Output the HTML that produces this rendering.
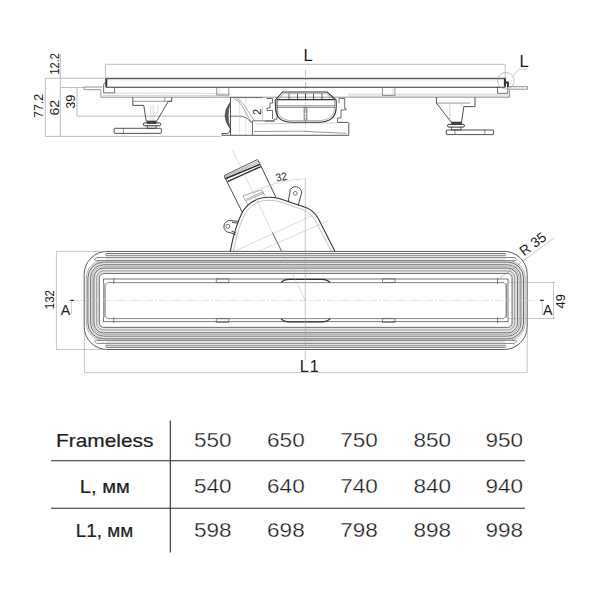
<!DOCTYPE html>
<html><head><meta charset="utf-8"><style>
html,body{margin:0;padding:0;background:#fff;width:600px;height:600px;overflow:hidden}
svg{display:block}
</style></head><body>
<svg width="600" height="600" viewBox="0 0 600 600">
<rect width="600" height="600" fill="#fff"/>
<g stroke="#a0a0a0" stroke-width="0.7" fill="none">
<path d="M105.4 64.3H505.2 M105.4 64.3V78 M505.2 64.3V80"/>
<path d="M45.3 78.3H105 M45.3 78.3V136.4 M45.3 136.4H221"/>
<path d="M60.3 54V136.4 M60.3 87.5H84"/>
<path d="M77 87.8V116 M77 116.2H231"/>
</g>
<path d="M305.5 70V131" stroke="#999" stroke-width="0.6" stroke-dasharray="7 2 1 2"/>
<g fill="none" stroke="#333">
<path d="M105.8 87.2V78.3H505.4V87" stroke-width="1"/>
<path d="M106.5 79.7H504.6" stroke-width="0.6" stroke="#aaa"/>
<path d="M105.8 87.2H505.4" stroke-width="1.1"/>
<path d="M106.6 79V86.5 M504.6 79V86.5" stroke-width="1.4"/>
<path d="M105.8 82.5Q103.6 83 103.6 85V92.8H114.6V87.2" stroke-width="0.7"/>
<path d="M505.4 82.5Q507.8 83 507.8 85V93.3H497.5V87" stroke-width="0.7"/>
<path d="M505.5 82.5H508V87" stroke-width="1.8"/>
<path d="M102.5 87H84.2V89.7H100.8V97.2H509.6V89.2H527.5V86.7H508" stroke-width="0.7" stroke="#666"/>
<path d="M103 93.2Q200 92.5 230.7 94.2 M103 95.5Q200 95 230.7 96 M348 94.2H509 M348 96H509" stroke-width="0.5" stroke="#aaa"/>
<path d="M216.7 87.2V95 H228.8V87.2 M382.5 87.3V95.5H395V87.3" stroke-width="0.7" stroke="#666"/>
<path d="M219 87.5V94.5 M393 87.5V94.5" stroke-width="0.4" stroke="#aaa"/>
</g>
<g fill="none" stroke="#333" stroke-width="0.85">
<path d="M132.8 97.2V105.4H143.8L146.2 121.2H156.7L168.3 101.3H171.8V97.2"/>
<path d="M132.8 101.3H171.8 M164.8 97.2V101.3" stroke-width="0.5"/>
<path d="M150.8 105V121 M153.2 105V121 M157.8 105V114" stroke-width="0.35" stroke="#999"/>
<rect x="147.3" y="121.2" width="8.8" height="2.3" fill="#444" stroke-width="0.5"/>
<rect x="143.3" y="122.9" width="17.4" height="2.9" rx="1.4" stroke-width="1"/>
<path d="M147.3 125.8V128.3H156.1V125.8" stroke-width="0.8"/>
<rect x="114.1" y="128.3" width="47.2" height="5.1" rx="0.6"/>
<path d="M123.4 128.3V133.4" stroke-width="0.5"/>
<path d="M436.4 97.2V103.1L451.6 122.5H461.5L463.8 106.6H475V97.2"/>
<path d="M436.4 103.1H470" stroke-width="0.5"/>
<path d="M449.8 104V122 M461.5 104V107" stroke-width="0.4" stroke="#999"/>
<rect x="451.6" y="122" width="9.9" height="2.5" fill="#444" stroke-width="0.5"/>
<rect x="447.5" y="124.3" width="17" height="2.8" rx="1.4" stroke-width="1"/>
<path d="M451.4 127.1V130H461V127.1" stroke-width="0.8"/>
<rect x="446.3" y="130" width="47.3" height="4.6" rx="0.6"/>
<path d="M455 130V134.6 M484.8 130V134.6" stroke-width="0.5"/>
</g>
<g fill="none" stroke="#333" stroke-width="0.85">
<path d="M230.5 97.5V135.3 M222 135.3H348.8V123.5Q348.8 122.4 347.5 122.4H337.5 M222 135.3V133.5H227.5Q230 132.5 230.5 129" />
<path d="M230.5 97.6H262" stroke-width="0.6"/>
<path d="M252.5 120.8V135 M252.5 120.8H274V119.2H277" stroke-width="0.7"/>
<path d="M254 131.5Q300 130 346.5 133.3" stroke-width="0.5"/>
<path d="M256 124Q300 123 337 123" stroke-width="0.4" stroke="#888"/>
<path d="M230.5 102Q219.5 115.5 230.5 129.2Q226 115.5 230.5 102Z" fill="#5a5a5a" stroke="#444" stroke-width="0.6"/>
<path d="M234.2 98.7Q239 101 241.7 105.3L251.7 122.8 M236.8 98.7Q241.5 101 244.3 105.3L254.5 121" stroke-width="0.55" stroke="#666"/>
<path d="M230.5 116.2H242Q247 117 251.7 122.8" stroke-width="0.7"/>
<path d="M239.6 98V134.5 M245.8 98V134.5" stroke-width="0.35" stroke="#aaa"/>
<path d="M277 119.2V98 M266.5 98.5H272.5V103H270V108H267V110.5H272.5V119" stroke-width="0.7"/>
<path d="M337.5 122.4V118H341V110H346V108.5H344.7V98.4H339V103" stroke-width="0.7"/>
<path d="M275.2 100L282.6 92H327L336.2 100V107C336.2 117 330 122.3 318 122.3H292C281 122.3 275.5 117 275.5 107Z" stroke-width="1.1"/>
<path d="M277 100.6L283.4 93.6H326.2L334.5 100.6V107C334.5 115.8 329 120.6 317.6 120.6H292.4C282.4 120.6 277.2 115.8 277.2 107Z" stroke-width="0.5" stroke="#666"/>
<path d="M277 99.6H334.5" stroke-width="1.4"/>
<path d="M277 105.8H334.5 M277 107.4H334.5" stroke-width="0.6"/>
<path d="M289 93.6V99.6 M297.5 93.6V99.6 M305.5 93.6V99.6 M313.5 93.6V99.6 M322 93.6V99.6" stroke-width="0.8"/>
<path d="M304.2 107.4V120.6 M306.8 107.4V120.6" stroke-width="0.7"/>
<path d="M265 121.2H275" stroke-width="0.6"/>
</g>
<path d="M262.5 106V121" stroke="#a0a0a0" stroke-width="0.5"/>
<text x="303.6" y="60.8" font-size="16.6" font-family="Liberation Sans, sans-serif" fill="#1a1a1a">L</text>
<text transform="translate(58.6 74.6) rotate(-90)" font-size="12.6" font-family="Liberation Sans, sans-serif" fill="#1a1a1a" textLength="21.5" lengthAdjust="spacingAndGlyphs">12.2</text>
<text transform="translate(42.9 118) rotate(-90)" font-size="13.2" font-family="Liberation Sans, sans-serif" fill="#1a1a1a" textLength="24.2" lengthAdjust="spacingAndGlyphs">77.2</text>
<text transform="translate(58.6 115.6) rotate(-90)" font-size="12.8" font-family="Liberation Sans, sans-serif" fill="#1a1a1a" textLength="15.8" lengthAdjust="spacingAndGlyphs">62</text>
<text transform="translate(75.1 108.7) rotate(-90)" font-size="12.8" font-family="Liberation Sans, sans-serif" fill="#1a1a1a" textLength="14" lengthAdjust="spacingAndGlyphs">39</text>
<text transform="translate(261.3 115) rotate(-90)" font-size="11.2" font-family="Liberation Sans, sans-serif" fill="#1a1a1a">2</text>
<circle cx="505.8" cy="80.8" r="8.3" fill="none" stroke="#999" stroke-width="0.6"/>
<path d="M512 76.7L519.2 69.2H527.5" fill="none" stroke="#aaa" stroke-width="0.6"/>
<text x="519.6" y="66.7" font-size="16.6" font-family="Liberation Sans, sans-serif" fill="#1a1a1a">L</text>
<g fill="none">
<path d="M103.70 261.30H507.70A16.60 16.60 0 0 1 524.30 277.90V323.00A16.60 16.60 0 0 1 507.70 339.60H103.70A16.60 16.60 0 0 1 87.10 323.00V277.90A16.60 16.60 0 0 1 103.70 261.30Z M103.70 274.10H507.70A3.80 3.80 0 0 1 511.50 277.90V323.00A3.80 3.80 0 0 1 507.70 326.80H103.70A3.80 3.80 0 0 1 99.90 323.00V277.90A3.80 3.80 0 0 1 103.70 274.10Z" fill="#e6e6e6" fill-rule="evenodd" stroke="none"/>
<path d="M106 252.9H505V261.4H106Z M106 348.0H505V339.5H106Z" fill="#e6e6e6" stroke="none"/>
<path d="M103.70 260.50H507.70A17.40 17.40 0 0 1 525.10 277.90V323.00A17.40 17.40 0 0 1 507.70 340.40H103.70A17.40 17.40 0 0 1 86.30 323.00V277.90A17.40 17.40 0 0 1 103.70 260.50Z" stroke="#999" stroke-width="0.8"/>
<path d="M103.70 266.40H507.70A11.50 11.50 0 0 1 519.20 277.90V323.00A11.50 11.50 0 0 1 507.70 334.50H103.70A11.50 11.50 0 0 1 92.20 323.00V277.90A11.50 11.50 0 0 1 103.70 266.40Z" stroke="#aaa" stroke-width="0.8"/>
<path d="M107.20 251.40H504.20A23.00 23.00 0 0 1 527.20 274.40V326.50A23.00 23.00 0 0 1 504.20 349.50H107.20A23.00 23.00 0 0 1 84.20 326.50V274.40A23.00 23.00 0 0 1 107.20 251.40Z" stroke="#484848" stroke-width="0.9"/>
<path d="M103.70 262.10H507.70A15.80 15.80 0 0 1 523.50 277.90V323.00A15.80 15.80 0 0 1 507.70 338.80H103.70A15.80 15.80 0 0 1 87.90 323.00V277.90A15.80 15.80 0 0 1 103.70 262.10Z" stroke="#6a6a6a" stroke-width="1"/>
<path d="M103.70 264.70H507.70A13.20 13.20 0 0 1 520.90 277.90V323.00A13.20 13.20 0 0 1 507.70 336.20H103.70A13.20 13.20 0 0 1 90.50 323.00V277.90A13.20 13.20 0 0 1 103.70 264.70Z" stroke="#777" stroke-width="1"/>
<path d="M103.70 268.10H507.70A9.80 9.80 0 0 1 517.50 277.90V323.00A9.80 9.80 0 0 1 507.70 332.80H103.70A9.80 9.80 0 0 1 93.90 323.00V277.90A9.80 9.80 0 0 1 103.70 268.10Z" stroke="#6e6e6e" stroke-width="1"/>
<path d="M103.70 270.90H507.70A7.00 7.00 0 0 1 514.70 277.90V323.00A7.00 7.00 0 0 1 507.70 330.00H103.70A7.00 7.00 0 0 1 96.70 323.00V277.90A7.00 7.00 0 0 1 103.70 270.90Z" stroke="#999" stroke-width="1"/>
<path d="M103.70 273.50H507.70A4.40 4.40 0 0 1 512.10 277.90V323.00A4.40 4.40 0 0 1 507.70 327.40H103.70A4.40 4.40 0 0 1 99.30 323.00V277.90A4.40 4.40 0 0 1 103.70 273.50Z" stroke="#707070" stroke-width="1"/>
<path d="M106 253.50H505.4 M106 347.40H505.4" stroke="#777" stroke-width="1"/>
<path d="M106 255.50H505.4 M106 345.40H505.4" stroke="#999" stroke-width="1"/>
<path d="M97 257.50H514.4 M97 343.40H514.4" stroke="#888" stroke-width="1"/>
<path d="M97 260.50H514.4 M97 340.40H514.4" stroke="#888" stroke-width="1"/>
<path d="M106 253.5Q104.5 254.5 106 255.5 M505.2 253.5Q506.7 254.5 505.2 255.5 M106 347.4Q104.5 346.4 106 345.4 M505.2 347.4Q506.7 346.4 505.2 345.4" stroke="#777" stroke-width="0.8"/>
<path d="M97 257.5Q93.5 259 95 260.5H100 M514.2 257.5Q517.7 259 516.2 260.5H511 M97 343.4Q93.5 341.9 95 340.4H100 M514.2 343.4Q517.7 341.9 516.2 340.4H511" stroke="#888" stroke-width="0.8"/>
</g>
<g fill="none" stroke="#333" stroke-width="0.8">
<rect x="103.4" y="279" width="404.6" height="42.7" stroke="#555"/>
<path d="M104.2 283V318" stroke="#bbb" stroke-width="1.4"/>
<path d="M506.4 283V318" stroke="#bbb" stroke-width="1.4"/>
<path d="M113.8 282.6H497.6 M113.8 318.6H497.6" stroke="#555" stroke-width="0.7"/>
<path d="M113.8 282.6H107.5L105.2 285V316L107.5 318.6H113.8 M497.6 282.6H504L506.2 285V316L504 318.6H497.6" stroke="#555" stroke-width="0.7"/>
<path d="M113.8 278V284 M113.8 317.5V323 M497.6 278V284 M497.6 317.5V323" stroke="#444" stroke-width="0.7"/>
<path d="M216.3 278.8h12.5v3.8h-12.5z M216.3 318.6h12.5v3.8h-12.5z M382.5 278.8h12.5v3.8h-12.5z M382.5 318.6h12.5v3.8h-12.5z" stroke="#555" stroke-width="0.7"/>
<path d="M281 282.6Q284 279.4 289 279.4H322Q327 279.4 330.3 282.6 M281 318.6Q284 321.8 289 321.8H322Q327 321.8 330.3 318.6" stroke="#333" stroke-width="1.3"/>
</g>
<g stroke="#a0a0a0" stroke-width="0.6" fill="none">
<path d="M56.4 251.4V349.5 M56.4 251.4H107 M56.4 349.5H107"/>
<path d="M84.4 330V372.6 M527.2 330V372.6 M84.4 372.6H527.2"/>
<path d="M508 282.5H555 M508 318.5H555 M553.5 282.5V318.5"/>
<path d="M500 278L554 238"/>
<path d="M305.3 178.6V360.5"/>
</g>
<path d="M75 300.4H538" stroke="#c8c8c8" stroke-width="0.6" stroke-dasharray="8 2 2 2"/>
<path d="M70.2 300.4H73.9 M540 300.4H543.8" stroke="#222" stroke-width="1.1"/>
<path d="M71.4 300.4V314.6 M542.3 300.4V314.6" stroke="#aaa" stroke-width="0.6"/>
<text x="60.7" y="314.6" font-size="14.2" font-family="Liberation Sans, sans-serif" fill="#1a1a1a">A</text>
<text x="543.1" y="314.6" font-size="14.2" font-family="Liberation Sans, sans-serif" fill="#1a1a1a">A</text>
<text transform="translate(53.6 309.2) rotate(-90)" font-size="13" font-family="Liberation Sans, sans-serif" fill="#1a1a1a" textLength="19.2" lengthAdjust="spacingAndGlyphs">132</text>
<text transform="translate(565.2 308.4) rotate(-90)" font-size="12.6" font-family="Liberation Sans, sans-serif" fill="#1a1a1a" textLength="14.2" lengthAdjust="spacingAndGlyphs">49</text>
<text transform="translate(524 256.5) rotate(-36.5)" font-size="14" font-family="Liberation Sans, sans-serif" fill="#1a1a1a" textLength="29" lengthAdjust="spacingAndGlyphs">R 35</text>
<text x="299.8" y="371.8" font-size="16.2" font-family="Liberation Sans, sans-serif" fill="#1a1a1a">L</text><text x="309.8" y="371.8" font-size="16.2" font-family="Liberation Sans, sans-serif" fill="#1a1a1a">1</text>
<g fill="none" stroke="#333" stroke-width="1">
<path d="M230.2 251.5C233.5 234 237 222 243 211C249 202 257 197.6 268 197.3Q274 197.2 280 198.7L305.8 207.5Q313 210 318 218L335 251.5" stroke-width="1.1"/>
<path d="M233.3 251.5C236.5 235 240 223.5 245.6 213C251 204.5 258.5 200.5 268 200.3Q274 200.2 279.5 201.6L304 210Q310.5 212.5 315 220L331.5 251.5" stroke-width="0.5" stroke="#888"/>
<path d="M242.4 212.6L225.4 178.5 M275.8 197L260.5 165.2" stroke-width="0.9"/>
<path d="M224.2 175.5L257.5 159.5L260.2 164.2L225.2 178.8Z" stroke-width="0.8"/>
<path d="M224.6 176.6L258.4 161 M224.9 177.6L259.2 162.4" stroke-width="0.6" stroke="#777"/>
<path d="M225.4 178.7L260.2 164.2" stroke-width="1.5"/>
<path d="M227.4 181.6L260.8 166.6" stroke-width="1.5"/>
<path d="M243 195.7L261.3 190L265.3 196 M246 199.3L263.3 191.7 M246.6 200.6L264 193 M243 195.7L248 205.3" stroke-width="0.55" stroke="#666"/>
<path d="M238 221.3L231.5 220.6A6.1 6.1 0 1 0 230.2 232.6L235.6 234.6 M237 223L232 222.3 M235.9 232.8L231.5 231.2" stroke-width="0.9"/>
<circle cx="227.8" cy="226.4" r="2" stroke-width="0.7"/>
<path d="M288.2 202.3L290.3 189.5A5.8 5.8 0 1 1 300.7 196L298.2 205.6" stroke-width="0.9"/>
<circle cx="295.3" cy="193.3" r="1.9" stroke-width="0.7"/>
<path d="M272.3 232.3L281.7 251.5" stroke-width="0.9"/>
</g>
<g stroke="#b5b5b5" stroke-width="0.5" fill="none">
<path d="M232.5 150L305.3 300.4"/>
<path d="M235 251L320 212 M258 251.4L328 221"/>
<path d="M246 195Q275 180 305.3 178.6"/>
</g>
<text transform="translate(276.8 181.8) rotate(-12)" font-size="11.3" font-family="Liberation Sans, sans-serif" fill="#1a1a1a" textLength="11" lengthAdjust="spacingAndGlyphs">32</text>
<path d="M170.3 420.5V552.6 M51 460.7H525 M51 508.2H525" stroke="#2a2a2a" stroke-width="1.1"/>
<text x="56" y="446.7" font-size="19" font-family="Liberation Sans, sans-serif" fill="#1e1e1e" stroke="#1e1e1e" stroke-width="0.22" textLength="97.5" lengthAdjust="spacingAndGlyphs">Frameless</text>
<text x="79.8" y="493.3" font-size="19" font-family="Liberation Sans, sans-serif" fill="#1e1e1e" stroke="#1e1e1e" stroke-width="0.22" textLength="50" lengthAdjust="spacingAndGlyphs">L, мм</text>
<text x="75.8" y="536.7" font-size="19" font-family="Liberation Sans, sans-serif" fill="#1e1e1e" stroke="#1e1e1e" stroke-width="0.22" textLength="57.5" lengthAdjust="spacingAndGlyphs">L1, мм</text>
<text x="193.9" y="446.6" font-size="19.5" font-family="Liberation Sans, sans-serif" fill="#181818" stroke="#fff" stroke-width="0.3" textLength="37.6" lengthAdjust="spacingAndGlyphs">550</text>
<text x="267.1" y="446.6" font-size="19.5" font-family="Liberation Sans, sans-serif" fill="#181818" stroke="#fff" stroke-width="0.3" textLength="37.6" lengthAdjust="spacingAndGlyphs">650</text>
<text x="340.3" y="446.6" font-size="19.5" font-family="Liberation Sans, sans-serif" fill="#181818" stroke="#fff" stroke-width="0.3" textLength="37.6" lengthAdjust="spacingAndGlyphs">750</text>
<text x="413.5" y="446.6" font-size="19.5" font-family="Liberation Sans, sans-serif" fill="#181818" stroke="#fff" stroke-width="0.3" textLength="37.6" lengthAdjust="spacingAndGlyphs">850</text>
<text x="485.5" y="446.6" font-size="19.5" font-family="Liberation Sans, sans-serif" fill="#181818" stroke="#fff" stroke-width="0.3" textLength="37.6" lengthAdjust="spacingAndGlyphs">950</text>
<text x="193.9" y="492.7" font-size="19.5" font-family="Liberation Sans, sans-serif" fill="#181818" stroke="#fff" stroke-width="0.3" textLength="37.6" lengthAdjust="spacingAndGlyphs">540</text>
<text x="267.1" y="492.7" font-size="19.5" font-family="Liberation Sans, sans-serif" fill="#181818" stroke="#fff" stroke-width="0.3" textLength="37.6" lengthAdjust="spacingAndGlyphs">640</text>
<text x="340.3" y="492.7" font-size="19.5" font-family="Liberation Sans, sans-serif" fill="#181818" stroke="#fff" stroke-width="0.3" textLength="37.6" lengthAdjust="spacingAndGlyphs">740</text>
<text x="413.5" y="492.7" font-size="19.5" font-family="Liberation Sans, sans-serif" fill="#181818" stroke="#fff" stroke-width="0.3" textLength="37.6" lengthAdjust="spacingAndGlyphs">840</text>
<text x="485.5" y="492.7" font-size="19.5" font-family="Liberation Sans, sans-serif" fill="#181818" stroke="#fff" stroke-width="0.3" textLength="37.6" lengthAdjust="spacingAndGlyphs">940</text>
<text x="193.9" y="536.7" font-size="19.5" font-family="Liberation Sans, sans-serif" fill="#181818" stroke="#fff" stroke-width="0.3" textLength="37.6" lengthAdjust="spacingAndGlyphs">598</text>
<text x="267.1" y="536.7" font-size="19.5" font-family="Liberation Sans, sans-serif" fill="#181818" stroke="#fff" stroke-width="0.3" textLength="37.6" lengthAdjust="spacingAndGlyphs">698</text>
<text x="340.3" y="536.7" font-size="19.5" font-family="Liberation Sans, sans-serif" fill="#181818" stroke="#fff" stroke-width="0.3" textLength="37.6" lengthAdjust="spacingAndGlyphs">798</text>
<text x="413.5" y="536.7" font-size="19.5" font-family="Liberation Sans, sans-serif" fill="#181818" stroke="#fff" stroke-width="0.3" textLength="37.6" lengthAdjust="spacingAndGlyphs">898</text>
<text x="485.5" y="536.7" font-size="19.5" font-family="Liberation Sans, sans-serif" fill="#181818" stroke="#fff" stroke-width="0.3" textLength="37.6" lengthAdjust="spacingAndGlyphs">998</text>
</svg>
</body></html>
